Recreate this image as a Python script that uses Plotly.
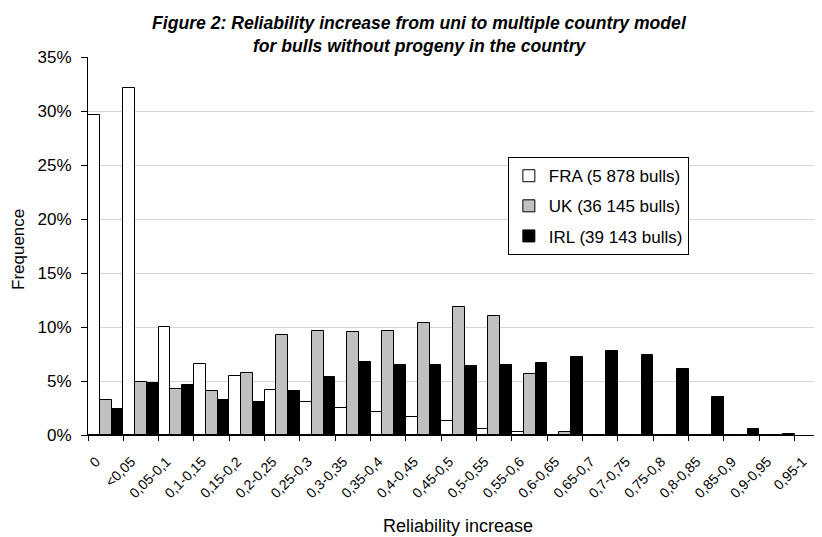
import numpy as np
import plotly.graph_objects as go

tick_labels = ["0", "<0,05", "0,05-0,1", "0,1-0,15", "0,15-0,2", "0,2-0,25", "0,25-0,3",
               "0,3-0,35", "0,35-0,4", "0,4-0,45", "0,45-0,5", "0,5-0,55", "0,55-0,6",
               "0,6-0,65", "0,65-0,7", "0,7-0,75", "0,75-0,8", "0,8-0,85", "0,85-0,9",
               "0,9-0,95", "0,95-1"]

fra = [29.6, 32.1, 10.0, 6.6, 5.5, 4.2, 3.1, 2.5, 2.1, 1.7, 1.26, 0.55, 0.24,
       0, 0, 0, 0, 0, 0, 0]
uk = [3.2, 4.95, 4.25, 4.1, 5.76, 9.3, 9.6, 9.5, 9.6, 10.4, 11.86, 11.0, 5.67,
      0.24, 0, 0, 0, 0, 0, 0]
irl = [2.4, 4.83, 4.65, 3.26, 3.1, 4.1, 5.36, 6.77, 6.5, 6.5, 6.37, 6.5, 6.65,
       7.2, 7.82, 7.4, 6.1, 3.54, 0.58, 0.12]

series_names = ["FRA (5 878 bulls)", "UK (36 145 bulls)", "IRL (39 143 bulls)"]
series_colors = ["#ffffff", "#c0c0c0", "#000000"]

y_ticks = [0, 5, 10, 15, 20, 25, 30, 35]
y_tick_text = [f"{v}%" for v in y_ticks]

x_centers = np.arange(len(fra)) + 0.5
tick_pos = np.arange(len(tick_labels))

FONT = "Liberation Sans, Arial, sans-serif"

fig = go.Figure()
for i, (name, vals, col) in enumerate(zip(series_names, [fra, uk, irl], series_colors)):
    fig.add_trace(go.Bar(
        x=x_centers, y=vals, name=name, legendgroup=f"g{i}",
        marker=dict(color=col, line=dict(color="#000000", width=1)),
    ))

fig.update_layout(
    width=814, height=529,
    margin=dict(l=80, r=0, t=49, b=102),
    paper_bgcolor="white", plot_bgcolor="white",
    barmode="group", bargap=0, bargroupgap=0,
    font=dict(family=FONT, size=17, color="#000000"),
    showlegend=True,
    legend=dict(
        x=0.572, y=0.735, xanchor="left", yanchor="top",
        bgcolor="white", bordercolor="#000000", borderwidth=1,
        font=dict(family=FONT, size=17, color="#000000"),
        traceorder="grouped", tracegroupgap=5,
    ),
    xaxis=dict(
        range=[0, 20.775], tickvals=tick_pos, ticktext=tick_labels,
        tickangle=-45, tickfont=dict(family=FONT, size=14),
        ticklabelshift=8, ticklabelstandoff=7,
        ticks="outside", ticklen=5, tickcolor="#000000",
        showline=True, linecolor="#000000", linewidth=1,
        showgrid=False, zeroline=False, fixedrange=True,
    ),
    yaxis=dict(
        range=[0, 35], tickvals=y_ticks, ticktext=y_tick_text,
        tickfont=dict(family=FONT, size=17),
        ticks="outside", ticklen=6, tickcolor="#000000", ticklabelstandoff=6,
        showline=True, linecolor="#000000", linewidth=1,
        showgrid=True, gridcolor="#d4d4d4", gridwidth=1,
        zeroline=False, fixedrange=True,
    ),
    annotations=[
        dict(text="<b><i>Figure 2: Reliability increase from uni to multiple country model</i></b>",
             xref="paper", yref="paper", x=0.452, y=1.091, xanchor="center", yanchor="middle",
             showarrow=False, font=dict(family=FONT, size=17.6)),
        dict(text="<b><i>for bulls without progeny in the country</i></b>",
             xref="paper", yref="paper", x=0.452, y=1.028, xanchor="center", yanchor="middle",
             showarrow=False, font=dict(family=FONT, size=17.6)),
        dict(text="Frequence", textangle=-90,
             xref="paper", yref="paper", x=-0.0954, y=0.492, xanchor="center", yanchor="middle",
             showarrow=False, font=dict(family=FONT, size=17)),
        dict(text="Reliability increase",
             xref="paper", yref="paper", x=0.504, y=-0.2407, xanchor="center", yanchor="middle",
             showarrow=False, font=dict(family=FONT, size=18)),
    ],
)

fig.write_html("out.html")
